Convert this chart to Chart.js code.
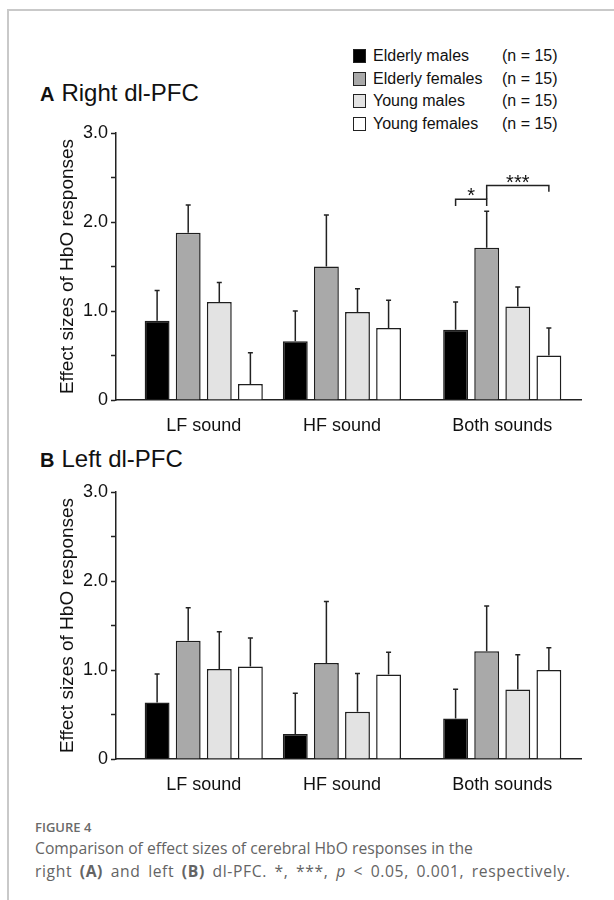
<!DOCTYPE html>
<html>
<head>
<meta charset="utf-8">
<script src="https://cdn.jsdelivr.net/npm/chart.js@4.4.1/dist/chart.umd.min.js"></script>
<style>
	body { margin: 0; background: #fff; width: 614px; height: 900px; position: relative; overflow: hidden; font-family: 'Liberation Sans', Arial, sans-serif; color: #111; }
	.frame { position: absolute; left: 7px; top: 9px; right: -4px; bottom: -4px; border-top: 2px solid #c9c9c9; border-left: 2px solid #c9c9c9; }
	.panel-title { position: absolute; left: 40px; font-size: 24px; line-height: 26px; white-space: nowrap; }
	.panel-title b { font-size: 20px; margin-right: 7px; }
	.box { position: absolute; left: 0; width: 614px; height: 325px; }
	#legend { position: absolute; left: 353px; top: 45px; font-size: 16px; }
	#legend .row { position: relative; height: 22.7px; line-height: 22.7px; width: 220px; }
	#legend .sw { position: absolute; left: 0; top: 4px; width: 11px; height: 12px; border: 1px solid #222; }
	#legend .lab { position: absolute; left: 20px; }
	#legend .n { position: absolute; left: 149px; }
	.caption { position: absolute; left: 35px; top: 817px; font-family: 'Open Sans', 'Noto Sans', sans-serif; color: #646464; }
	.caption .fig { font-size: 13px; font-weight: 600; line-height: 20px; color: #6a6a6a; }
	.caption .txt { font-size: 15.7px; line-height: 23px; white-space: nowrap; }
	.caption .l2 { letter-spacing: 0.6px; word-spacing: 3px; }
</style>
</head>
<body>
<div class="frame"></div>
<div id="legend"></div>
<div class="panel-title" style="top:80px"><b>A</b>Right dl-PFC</div>
<div class="box" style="top:110px"><canvas id="chartA"></canvas></div>
<div class="panel-title" style="top:446px"><b>B</b>Left dl-PFC</div>
<div class="box" style="top:469px"><canvas id="chartB"></canvas></div>
<div class="caption">
	<div class="fig">FIGURE 4</div>
	<div class="txt">Comparison of effect sizes of cerebral HbO responses in the<br><span class="l2">right <b>(A)</b> and left <b>(B)</b> dl-PFC. *, ***, <i>p</i> &lt; 0.05, 0.001, respectively.</span></div>
</div>
<script>
const soundLabels = ['LF sound', 'HF sound', 'Both sounds'];
const soundPos = [0, 1, 2.16];
const groupNames = ['Elderly males', 'Elderly females', 'Young males', 'Young females'];
const groupN = [15, 15, 15, 15];
const groupColors = ['#000000', '#a9a9a9', '#e3e3e3', '#ffffff'];

// A: right dl-PFC, mean and upper SD per group (rows) and sound (cols)
const rightMeans = [
	[0.89, 0.66, 0.79],
	[1.88, 1.5, 1.71],
	[1.1, 0.99, 1.05],
	[0.18, 0.81, 0.5]
];
const rightSD = [
	[0.34, 0.34, 0.31],
	[0.31, 0.58, 0.41],
	[0.22, 0.26, 0.22],
	[0.35, 0.31, 0.31]
];
const rightSig = [
	{ label: '*', cat: 2, from: 0, to: 1, level: 2.255, endFrom: 2.18, endTo: 2.18 },
	{ label: '***', cat: 2, from: 1, to: 3, level: 2.41, endFrom: 2.255, endTo: 2.34 }
];

// B: left dl-PFC
const leftMeans = [
	[0.635, 0.28, 0.455],
	[1.33, 1.08, 1.21],
	[1.01, 0.53, 0.78],
	[1.04, 0.95, 1.0]
];
const leftSD = [
	[0.32, 0.46, 0.33],
	[0.37, 0.69, 0.51],
	[0.42, 0.43, 0.39],
	[0.32, 0.25, 0.25]
];

Chart.defaults.font.family = "'Liberation Sans', Arial, sans-serif";
Chart.defaults.color = '#111';

let legend = document.querySelector('#legend');
groupNames.forEach((name, i) => {
	let row = document.createElement('div');
	row.className = 'row';
	row.innerHTML = `<span class="sw" style="background:${groupColors[i]}"></span><span class="lab">${name}</span><span class="n">(n = ${groupN[i]})</span>`;
	legend.appendChild(row);
});

// error bars + significance brackets
const errorBars = {
	id: 'errorBars',
	afterDatasetsDraw(chart, args, opts) {
		const ctx = chart.ctx;
		const y = chart.scales.y;
		ctx.save();
		ctx.strokeStyle = '#222';
		ctx.lineWidth = 1.5;
		chart.data.datasets.forEach((ds, i) => {
			chart.getDatasetMeta(i).data.forEach((bar, j) => {
				const top = y.getPixelForValue(ds.data[j].y + ds.sd[j]);
				ctx.beginPath();
				ctx.moveTo(bar.x, bar.y);
				ctx.lineTo(bar.x, top);
				ctx.moveTo(bar.x - 2.5, top);
				ctx.lineTo(bar.x + 2.5, top);
				ctx.stroke();
			});
		});
		(opts.brackets || []).forEach((b) => {
			const x1 = chart.getDatasetMeta(b.from).data[b.cat].x;
			const x2 = chart.getDatasetMeta(b.to).data[b.cat].x;
			const yl = y.getPixelForValue(b.level);
			ctx.beginPath();
			ctx.moveTo(x1, y.getPixelForValue(b.endFrom));
			ctx.lineTo(x1, yl);
			ctx.lineTo(x2, yl);
			ctx.lineTo(x2, y.getPixelForValue(b.endTo));
			ctx.stroke();
			ctx.fillStyle = '#111';
			ctx.font = "20px 'Liberation Sans', Arial, sans-serif";
			ctx.textAlign = 'center';
			ctx.textBaseline = 'alphabetic';
			ctx.fillText(b.label, (x1 + x2) / 2, yl + 3);
		});
		ctx.restore();
	}
};

const makeChart = (id, means, sds, brackets) =>
	new Chart(document.getElementById(id), {
		type: 'bar',
		data: {
			datasets: groupNames.map((name, i) => ({
				label: name,
				data: means[i].map((v, j) => ({ x: soundPos[j], y: v })),
				sd: sds[i],
				backgroundColor: groupColors[i],
				borderColor: '#1e1e1e',
				borderWidth: 1.5,
				categoryPercentage: 0.9,
				barPercentage: 0.8
			}))
		},
		options: {
			responsive: true,
			maintainAspectRatio: false,
			animation: false,
			devicePixelRatio: 1,
			layout: { padding: { left: 56, right: 33, top: 23, bottom: 0 } },
			plugins: {
				legend: { display: false },
				tooltip: { enabled: false },
				errorBars: { brackets: brackets }
			},
			scales: {
				x: {
					type: 'linear',
					offset: false,
					min: -0.635,
					max: 2.73,
					grid: { display: false },
					border: { color: '#222', width: 1.5 },
					afterBuildTicks: (axis) => {
						axis.ticks = soundPos.map((v) => ({ value: v }));
					},
					afterFit: (axis) => {
						axis.height = 35;
					},
					ticks: {
						autoSkip: false,
						maxRotation: 0,
						padding: 7,
						font: { size: 18 },
						callback: (v, i) => soundLabels[i]
					}
				},
				y: {
					min: 0,
					max: 3,
					grid: { drawOnChartArea: false, tickLength: 5, tickColor: '#222', tickWidth: 1.5 },
					border: { color: '#222', width: 1.5 },
					afterFit: (axis) => {
						axis.width = 60;
					},
					ticks: {
						stepSize: 0.5,
						padding: 3,
						font: { size: 18 },
						callback: (v) => (v === 0 ? '0' : v % 1 === 0 ? v.toFixed(1) : '')
					},
					title: {
						display: true,
						text: 'Effect sizes of HbO responses',
						font: { size: 19 },
						padding: 0
					}
				}
			}
		},
		plugins: [errorBars]
	});

makeChart('chartA', rightMeans, rightSD, rightSig);
makeChart('chartB', leftMeans, leftSD, []);
</script>
</body>
</html>
